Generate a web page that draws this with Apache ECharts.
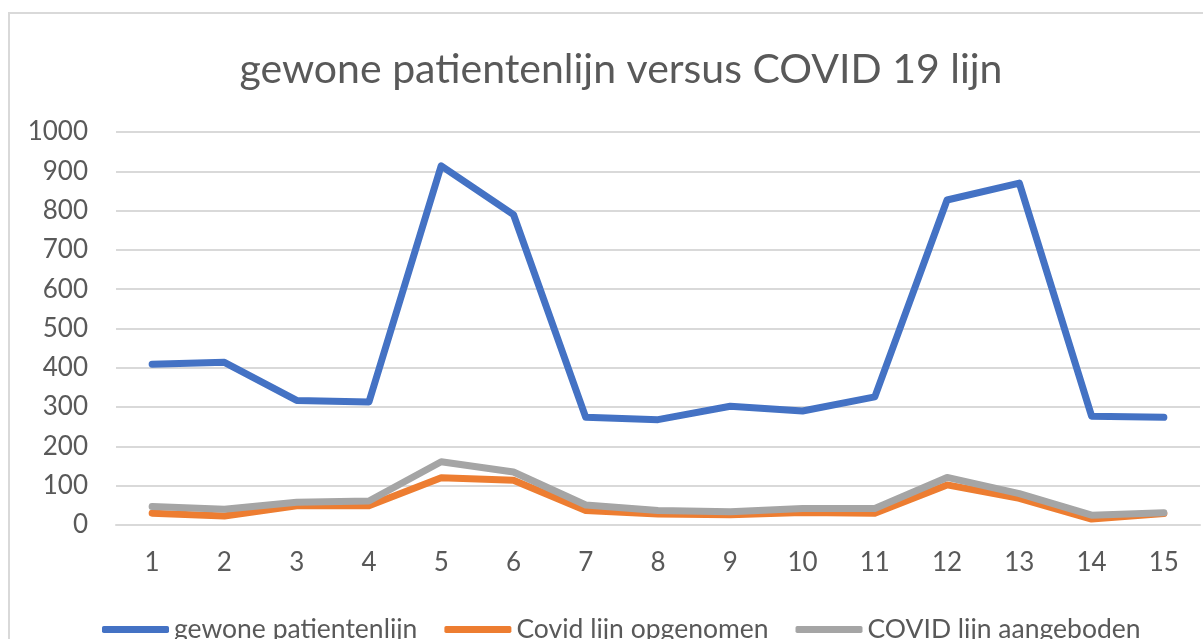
<!DOCTYPE html>
<html>
<head>
<meta charset="utf-8">
<script src="https://cdn.jsdelivr.net/npm/echarts@6/dist/echarts.min.js"></script>
<style>html,body{margin:0;padding:0;background:#fff}#c{width:1203px;height:639px}</style>
</head>
<body>
<div id="c"></div>
<script>
const categories = ['1','2','3','4','5','6','7','8','9','10','11','12','13','14','15'];
const gewone = [409, 414, 317, 313, 914, 790, 274, 268, 302, 290, 326, 827, 870, 277, 274];
const opgenomen = [30, 23, 49, 49, 120, 114, 37, 28, 26, 32, 30, 102, 68, 15, 29];
const aangeboden = [47, 40, 58, 61, 161, 135, 51, 37, 34, 42, 42, 121, 80, 25, 31];
const seriesNames = ['gewone patientenlijn', 'Covid lijn opgenomen', 'COVID lijn aangeboden'];
const titleText = 'gewone patientenlijn versus COVID 19 lijn';

const FONT = 'Lato';
const TXT = '#595959';
const chart = echarts.init(document.getElementById('c'), null, {renderer: 'canvas'});
const mk = (name, data, color) => ({
  name, type: 'line', data, symbol: 'none', smooth: false,
  lineStyle: {color, width: 7, cap: 'round', join: 'round'},
  itemStyle: {color}
});
chart.setOption({
  animation: false,
  backgroundColor: '#fff',
  title: {
    text: titleText, left: 616, top: 44, textAlign: 'center',
    textStyle: {fontFamily: FONT, fontSize: 41, fontWeight: 'normal', color: TXT}
  },
  grid: {left: 116, right: 3, top: 132, bottom: 114, containLabel: false},
  legend: {
    left: 97, top: 611, itemWidth: 67, itemHeight: 7, itemGap: 27,
    icon: 'roundRect',
    textStyle: {fontFamily: FONT, fontSize: 26.5, color: TXT},
    data: seriesNames
  },
  xAxis: {
    type: 'category', data: categories, boundaryGap: true,
    axisLine: {show: true, lineStyle: {color: '#d9d9d9', width: 2}},
    axisTick: {show: false},
    axisLabel: {fontFamily: FONT, fontSize: 26, color: TXT, margin: 25}
  },
  yAxis: {
    type: 'value', min: 0, max: 1000, interval: 100,
    axisLine: {show: false}, axisTick: {show: false},
    splitLine: {lineStyle: {color: '#d9d9d9', width: 2}},
    axisLabel: {fontFamily: FONT, fontSize: 26, color: TXT, margin: 28, formatter: v => String(v)}
  },
  graphic: [{
    type: 'rect', silent: true, z: -1,
    shape: {x: 9, y: 13, width: 1400, height: 800},
    style: {fill: 'none', stroke: '#d9d9d9', lineWidth: 2}
  }],
  series: [
    mk(seriesNames[0], gewone, '#4472C4'),
    mk(seriesNames[1], opgenomen, '#ED7D31'),
    mk(seriesNames[2], aangeboden, '#A5A5A5')
  ]
});
</script>
</body>
</html>
